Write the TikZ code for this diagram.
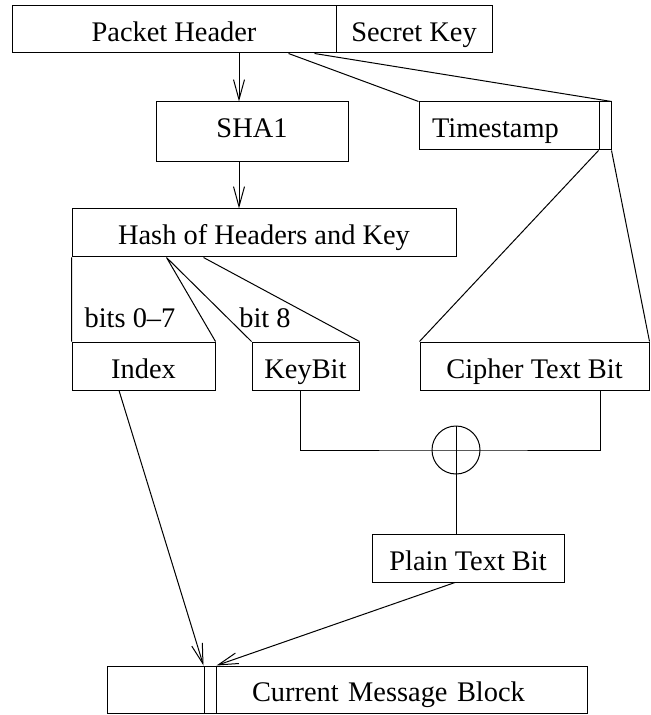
\documentclass[tikz,border=0pt]{standalone}
\usepackage{fontspec}
\setmainfont{Liberation Serif}
\usetikzlibrary{arrows.meta}

\begin{document}
\begin{tikzpicture}[x=0.5pt,y=-0.5pt,line width=0.5pt,
  font=\fontsize{14.2}{17}\selectfont,
  box/.style={draw,rectangle,inner sep=0pt,minimum height=24pt,text height=12.5pt,text depth=0.5pt},
  >={Straight Barb[length=10pt,width=5.5pt]}]
  \useasboundingbox (0,0) rectangle (650,715);
  \node[box,minimum width=162pt,minimum height=23.5pt] (PH) at (174,29.5) {Packet Header};
  \node[box,minimum width=78pt,minimum height=23.5pt] (SK) at (414,29.5) {Secret Key};
  \node[box,minimum width=96pt,minimum height=30pt,text height=7pt,text depth=1pt] (SHA) at (252,132) {SHA1};
  \node[box,text width=77pt,align=left,inner xsep=6.5pt] (TS) at (509,126) {Timestamp};
  \node[box,minimum width=6pt] (TSbit) at (605,126) {};
  \node[box,minimum width=192pt] (Hash) at (264,233) {Hash of Headers and Key};
  \node[box,minimum width=71.5pt] (Index) at (143.5,366) {Index};
  \node[box,minimum width=53.5pt] (KeyBit) at (305.5,366) {KeyBit};
  \node[box,minimum width=114.5pt] (Cipher) at (534.5,366) {Cipher Text Bit};
  \node[draw,circle,inner sep=0pt,minimum size=24pt] (xor) at (456,450) {};
  \node[box,minimum width=96pt] (Plain) at (468,558) {Plain Text Bit};
  \node[box,minimum width=48.5pt,minimum height=23.5pt] (CMBa) at (155.5,689.5) {};
  \node[box,minimum width=6pt,minimum height=23.5pt] (CMBb) at (210,689.5) {};
  \node[box,text width=149.5pt,align=left,inner xsep=18pt,minimum height=23.5pt] (CMB) at (401.5,689.5) {Current Message Block};
  \node[anchor=base] (bits07) at (130,328) {bits 0--7};
  \node[anchor=base] (bit8) at (265,328) {bit 8};
  \draw[->] ([xshift=-6.5pt]SHA.north |- PH.south) -- ([xshift=-6.5pt]SHA.north);
  \draw[->] ([xshift=-6.5pt]SHA.south) -- ([xshift=-6.5pt]SHA.south |- Hash.north);
  \draw ([xshift=-24pt]PH.south east) -- (TS.north west)
        ([xshift=-11pt]PH.south east) -- (TSbit.north east);
  \draw (TSbit.south west) -- (Cipher.north west)
        (TSbit.south east) -- (Cipher.north east);
  \draw (Hash.south west) -- (Index.north west)
        ([xshift=47.5pt]Hash.south west) -- (Index.north east)
        ([xshift=47.5pt]Hash.south west) -- (KeyBit.north west)
        ([xshift=66pt]Hash.south west) -- (KeyBit.north east);
  \draw ([xshift=-2.75pt]KeyBit.south) |- (xor.center) -| ([xshift=32.75pt]Cipher.south);
  \draw (xor.north) -- (xor.north |- Plain.north);
  \draw[->] ([xshift=-12.25pt]Index.south) -- (CMBb.north west);
  \draw[->] ([xshift=-6.5pt]Plain.south) -- (CMBb.north east);
\end{tikzpicture}
\end{document}
